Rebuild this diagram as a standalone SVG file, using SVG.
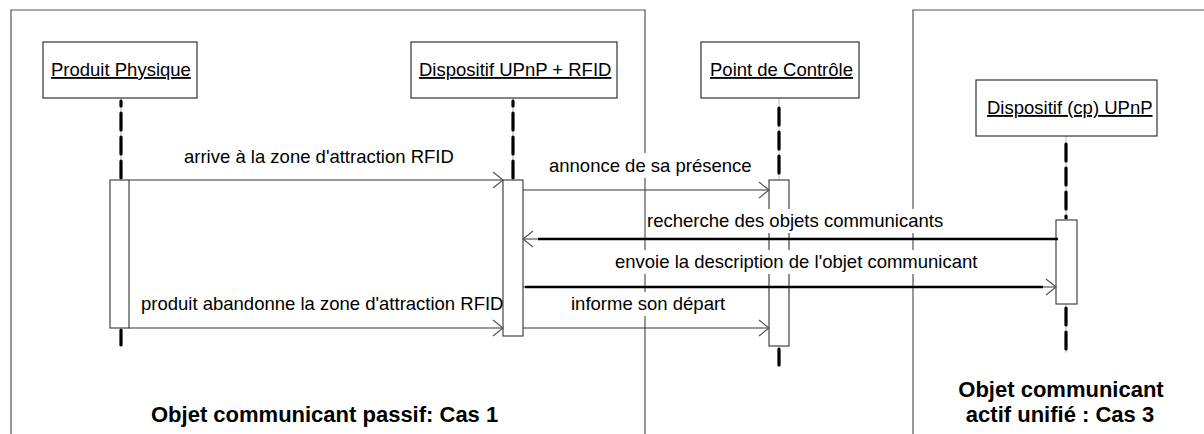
<svg xmlns="http://www.w3.org/2000/svg" width="1204" height="434" viewBox="0 0 1204 434">
<style>
.frame{fill:none;stroke:#555;stroke-width:1.2}
.box{fill:#fff;stroke:#333;stroke-width:1.2}
.act{fill:#fff;stroke:#444;stroke-width:1.2}
.lt{font-family:"Liberation Sans",Arial,sans-serif;font-size:18.5px;fill:#000;text-decoration:underline}
.ml{font-family:"Liberation Sans",Arial,sans-serif;font-size:18.5px;fill:#000}
.bl{font-family:"Liberation Sans",Arial,sans-serif;font-size:22px;font-weight:bold;fill:#000}
.life{stroke:#bbb;stroke-width:1}
.dash{stroke:#000;stroke-width:3.2;stroke-dasharray:17 7;stroke-linecap:round}
.msg{stroke:#333;stroke-width:1.2;fill:none}
.thick{stroke:#000;stroke-width:2.5}
.bg{fill:#fff}
</style>
<defs>
<marker id="arr" markerUnits="userSpaceOnUse" markerWidth="14" markerHeight="20" viewBox="-12 -10 14 20" refX="0" refY="0" orient="auto">
<path d="M-10,-8 L0,0 L-10,8" fill="none" stroke="#555" stroke-width="1.2"/>
</marker>
</defs>
<g id="frames">
<path class="frame" d="M11,434 V10 H645 V434"/>
<path class="frame" d="M913,434 V10 H1204"/>
</g>
<g id="lifelines">
<line class="life" x1="121" y1="98" x2="121" y2="345"/>
<line class="dash" x1="121" y1="101" x2="121" y2="178" stroke-dashoffset="12"/>
<line class="dash" x1="121" y1="330" x2="121" y2="345"/>
<line class="life" x1="513" y1="98" x2="513" y2="180"/>
<line class="dash" x1="513" y1="101" x2="513" y2="178" stroke-dashoffset="12"/>
<line class="life" x1="779" y1="98" x2="779" y2="365"/>
<line class="dash" x1="779" y1="108" x2="779" y2="178"/>
<line class="dash" x1="779" y1="349" x2="779" y2="365"/>
<line class="life" x1="1066" y1="136" x2="1066" y2="353"/>
<line class="dash" x1="1066" y1="144" x2="1066" y2="218"/>
<line class="dash" x1="1066" y1="308" x2="1066" y2="353"/>
</g>
<g id="n1">
<rect class="box" x="43" y="42" width="154" height="56"/>
<text class="lt" x="51" y="76">Produit Physique</text>
<rect class="act" x="110" y="180" width="19" height="148"/>
</g>
<g id="n2">
<rect class="box" x="411" y="42" width="206" height="56"/>
<text class="lt" x="419" y="76">Dispositif UPnP + RFID</text>
<rect class="act" x="503" y="180" width="20" height="156"/>
</g>
<g id="n3">
<rect class="box" x="701" y="42" width="158" height="56"/>
<text class="lt" x="710" y="76">Point de Contrôle</text>
<rect class="act" x="769" y="180" width="20" height="166"/>
</g>
<g id="n4">
<rect class="box" x="976" y="80" width="181" height="56"/>
<text class="lt" x="987" y="114">Dispositif (cp) UPnP</text>
<rect class="act" x="1056" y="220" width="21" height="84"/>
</g>
<g id="connectors">
<line class="msg" x1="129" y1="180" x2="503" y2="180" marker-end="url(#arr)"/>
<line class="msg" x1="523" y1="190" x2="769" y2="190" marker-end="url(#arr)"/>
<line class="msg" x1="1056" y1="239" x2="523" y2="239" marker-end="url(#arr)"/>
<line class="thick" x1="1058" y1="239" x2="538" y2="239"/>
<line class="msg" x1="523" y1="287" x2="1056" y2="287" marker-end="url(#arr)"/>
<line class="thick" x1="525" y1="287" x2="1043" y2="287"/>
<line class="msg" x1="129" y1="328" x2="503" y2="328" marker-end="url(#arr)"/>
<line class="msg" x1="523" y1="328" x2="769" y2="328" marker-end="url(#arr)"/>
</g>
<g id="labels">
<rect class="bg" x="182" y="146" width="282" height="23"/>
<text class="ml" x="184" y="163">arrive à la zone d'attraction RFID</text>
<rect class="bg" x="547" y="153" width="206" height="25"/>
<text class="ml" x="549" y="172">annonce de sa présence</text>
<rect class="bg" x="647" y="209" width="301" height="24"/>
<text class="ml" x="647" y="227">recherche des objets communicants</text>
<rect class="bg" x="613" y="250" width="371" height="24"/>
<text class="ml" x="615" y="268">envoie la description de l'objet communicant</text>
<text class="ml" x="141" y="310">produit abandonne la zone d'attraction RFID</text>
<rect class="bg" x="569" y="292" width="160" height="24"/>
<text class="ml" x="571" y="310">informe son départ</text>
<text class="bl" x="151" y="422">Objet communicant passif: Cas 1</text>
<text class="bl" x="1061" y="397" text-anchor="middle">Objet communicant</text>
<text class="bl" x="1060" y="422" text-anchor="middle">actif unifié : Cas 3</text>
</g>
</svg>
